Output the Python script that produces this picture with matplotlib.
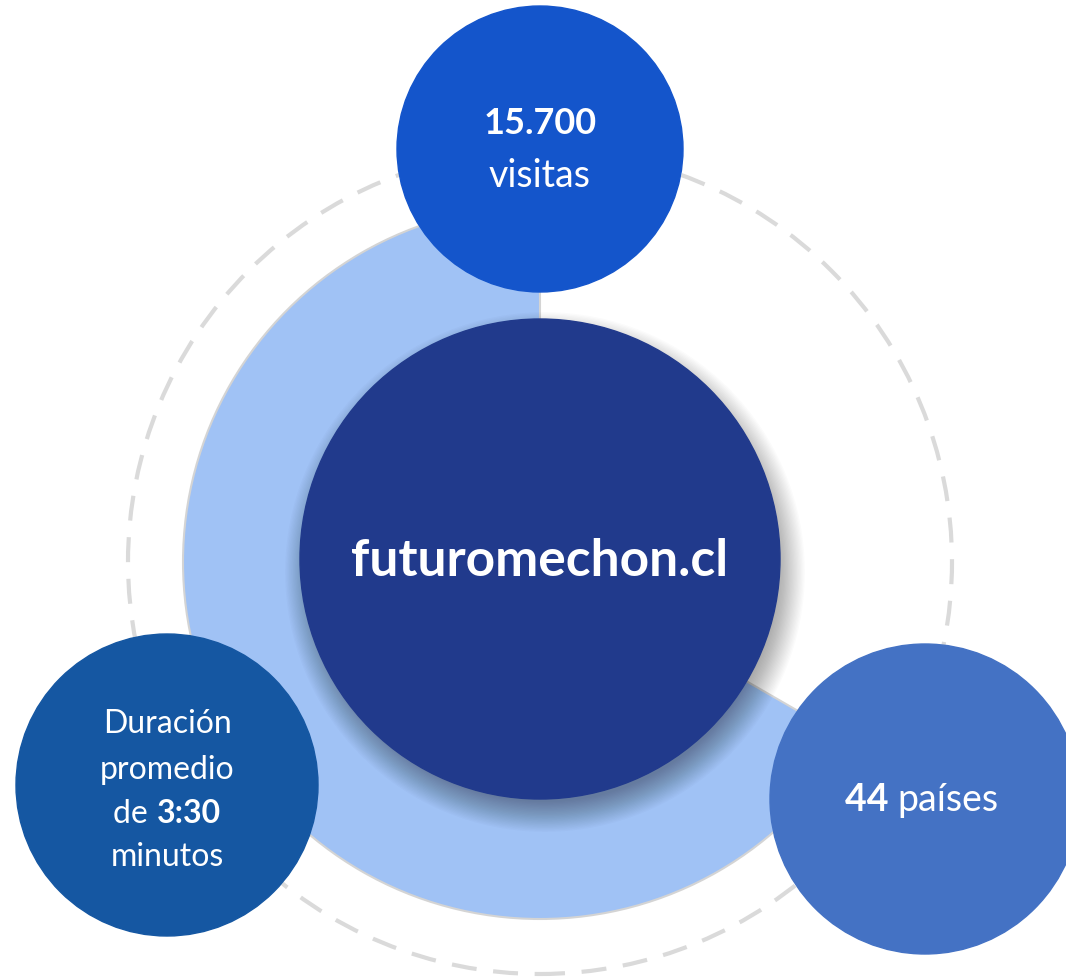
import matplotlib
matplotlib.use('Agg')
import matplotlib.pyplot as plt
from matplotlib.patches import Circle
from matplotlib.offsetbox import TextArea, HPacker, AnnotationBbox

plt.rcParams['font.family'] = ['Lato', 'DejaVu Sans']

W, H = 1066, 978

# pie behind the centre: white third, light blue rest
pie_shares = [1, 2]
pie_colors = ['white', '#A0C2F5']
pie_edges = ['none', '#D4D4D4']

# satellite circles: centre (px from top-left), radius, colour
sat_names = ['visitas', 'duracion', 'paises']
sat_centers = [(540, 150), (167, 786), (925, 800)]
sat_radius = [143, 151, 155]
sat_colors = ['#1455CB', '#1557A2', '#4472C4']

title = 'futuromechon.cl'

fig = plt.figure(figsize=(W / 100, H / 100), dpi=100)
ax = fig.add_axes([0, 0, 1, 1])

def Y(y):
    return H - y

cx, cy = 540, 563

# dashed outer ring
ax.add_patch(Circle((cx, Y(cy)), 412, fill=False, edgecolor='#DADADA',
                    linewidth=3, linestyle=(0, (6, 4)), zorder=1))

wedges, _ = ax.pie(pie_shares, colors=pie_colors, startangle=90, counterclock=False,
                   center=(cx, Y(cy)), radius=357, frame=True,
                   wedgeprops=dict(linewidth=1.5, zorder=2))
for w, e in zip(wedges, pie_edges):
    w.set_edgecolor(e)

# soft shadow under the centre circle
for i in range(24):
    ax.add_patch(Circle((cx + 5, Y(cy) - 10), 230 + i * 1.3, color='black',
                        alpha=0.015, linewidth=0, zorder=3))
ax.add_patch(Circle((cx, Y(cy) + 3), 240, color='#213A8C', zorder=4))
ax.text(cx, Y(cy) + 1, title, color='white', fontsize=37, fontweight='bold',
        ha='center', va='center', zorder=6)

for (x, y), r, c in zip(sat_centers, sat_radius, sat_colors):
    ax.add_patch(Circle((x, Y(y)), r, color=c, zorder=5))

# top circle
ax.text(540, Y(124), '15.700', color='white', fontsize=26, fontweight='bold',
        ha='center', va='center', zorder=6)
ax.text(540, Y(176), 'visitas', color='white', fontsize=27,
        ha='center', va='center', zorder=6)

# bottom-left circle
ax.text(167, Y(724), 'Duración', color='white', fontsize=23,
        ha='center', va='center', zorder=6)
ax.text(167, Y(770), 'promedio', color='white', fontsize=23,
        ha='center', va='center', zorder=6)
ax.text(167, Y(857), 'minutos', color='white', fontsize=23,
        ha='center', va='center', zorder=6)


def mixed(x, y, parts, size):
    boxes = [TextArea(t, textprops=dict(color='white', fontsize=size,
                                        fontweight=w)) for t, w in parts]
    pack = HPacker(children=boxes, align='baseline', pad=0, sep=0)
    ab = AnnotationBbox(pack, (x, Y(y)), frameon=False, box_alignment=(0.5, 0.5),
                        zorder=6)
    ax.add_artist(ab)


mixed(167, 814, [('de ', 'normal'), ('3:30', 'bold')], 23)
mixed(922, 800, [('44 ', 'bold'), ('países', 'normal')], 27)

ax.set_xlim(0, W)
ax.set_ylim(0, H)
ax.set_aspect('equal')
ax.axis('off')

fig.savefig('out.png', dpi=100, facecolor='white')
